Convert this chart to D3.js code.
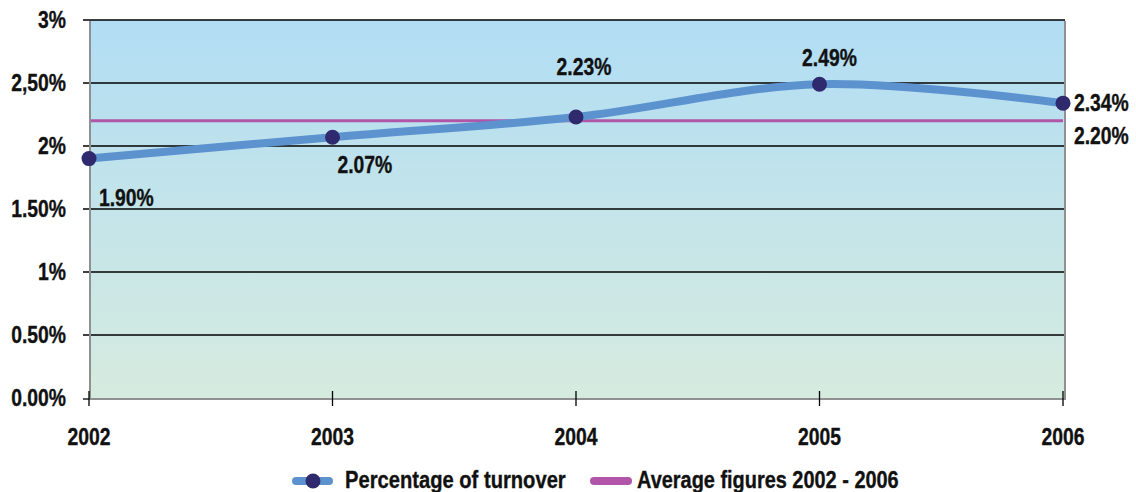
<!DOCTYPE html>
<html>
<head>
<meta charset="utf-8">
<script src="https://cdn.jsdelivr.net/npm/d3@7"></script>
<style>
  html, body { margin: 0; padding: 0; background: #fff; }
  svg text { font-family: "Liberation Sans", Arial, sans-serif; font-weight: bold; fill: #111; font-size: 23px; stroke: #111; stroke-width: 0.35px; }
  svg text.legend { font-size: 24px; }
</style>
</head>
<body>
<svg id="chart" width="1136" height="492"></svg>
<script>
// Turnover share by year and the 2002–2006 average
const years = ["2002", "2003", "2004", "2005", "2006"];
const turnover = [1.90, 2.07, 2.23, 2.49, 2.34];
const average = 2.20;
const yTicks = [0, 0.5, 1, 1.5, 2, 2.5, 3];
const yTickLabels = ["0.00%", "0.50%", "1%", "1.50%", "2%", "2,50%", "3%"];
const turnoverLabels = ["1.90%", "2.07%", "2.23%", "2.49%", "2.34%"];
const averageLabel = "2.20%";
const legendLabels = ["Percentage of turnover", "Average figures 2002 - 2006"];

const svg = d3.select("#chart");
const plotL = 89, plotR = 1063, plotT = 20, plotB = 398;

// Narrow the bold sans glyphs to a condensed face
const squeeze = 0.84;
function condense(sel, k = squeeze) {
  sel.each(function () {
    const w = this.getComputedTextLength();
    d3.select(this).attr("textLength", w * k).attr("lengthAdjust", "spacingAndGlyphs");
  });
}

const x = d3.scalePoint().domain(years).range([plotL, plotR]);
const y = d3.scaleLinear().domain([0, 3]).range([plotB, plotT]);

// Plot background gradient
const defs = svg.append("defs");
const grad = defs.append("linearGradient").attr("id", "bg").attr("x1", 0).attr("y1", 0).attr("x2", 0).attr("y2", 1);
grad.append("stop").attr("offset", "0%").attr("stop-color", "#b1ddf4");
grad.append("stop").attr("offset", "100%").attr("stop-color", "#d6ebdf");

svg.append("rect")
  .attr("x", plotL + 1).attr("y", plotT).attr("width", plotR - plotL + 1).attr("height", plotB - plotT)
  .attr("fill", "url(#bg)");

// Horizontal gridlines with ticks extending to the left
svg.append("g").selectAll("line").data(yTicks.filter(d => d > 0)).join("line")
  .attr("x1", plotL - 6).attr("x2", plotR + 2)
  .attr("y1", d => y(d)).attr("y2", d => y(d))
  .attr("stroke", "#000").attr("stroke-width", 1.3);

// Frame: left, right and bottom edges in grey
svg.append("line").attr("x1", plotL + 1).attr("x2", plotL + 1).attr("y1", plotT + 1).attr("y2", plotB + 1)
  .attr("stroke", "#8f9091").attr("stroke-width", 2);
svg.append("line").attr("x1", plotR + 2).attr("x2", plotR + 2).attr("y1", plotT + 1).attr("y2", plotB + 1)
  .attr("stroke", "#8f9091").attr("stroke-width", 2);
svg.append("line").attr("x1", plotL).attr("x2", plotR + 3).attr("y1", plotB + 1).attr("y2", plotB + 1)
  .attr("stroke", "#8f9091").attr("stroke-width", 2);
svg.append("line").attr("x1", plotL - 6).attr("x2", plotL).attr("y1", plotB + 1).attr("y2", plotB + 1)
  .attr("stroke", "#000").attr("stroke-width", 1.3);

// Y axis labels
svg.append("g").selectAll("text").data(yTicks).join("text")
  .attr("x", 66).attr("y", d => y(d) + 8)
  .attr("text-anchor", "end")
  .text((d, i) => yTickLabels[i])
  .call(condense);

// X axis ticks and labels
svg.append("g").selectAll("line").data(years).join("line")
  .attr("x1", d => x(d)).attr("x2", d => x(d))
  .attr("y1", plotB - 7).attr("y2", plotB + 8)
  .attr("stroke", "#000").attr("stroke-width", 1.3);
svg.append("g").selectAll("text").data(years).join("text")
  .attr("x", d => x(d)).attr("y", 445)
  .attr("text-anchor", "middle")
  .text(d => d)
  .call(condense);

// Average line
svg.append("line")
  .attr("x1", plotL + 2).attr("x2", plotR).attr("y1", y(average)).attr("y2", y(average))
  .attr("stroke", "#b055a8").attr("stroke-width", 3);

// Turnover curve
const line = d3.line()
  .x((d, i) => x(years[i]))
  .y(d => y(d))
  .curve(d3.curveCatmullRom.alpha(0.5));
svg.append("path")
  .datum(turnover)
  .attr("d", line)
  .attr("fill", "none")
  .attr("stroke", "#5c93cf")
  .attr("stroke-width", 8)
  .attr("stroke-linecap", "round");

svg.append("g").selectAll("circle").data(turnover).join("circle")
  .attr("cx", (d, i) => x(years[i]))
  .attr("cy", d => y(d))
  .attr("r", 7.5)
  .attr("fill", "#2f2a6d");

// Value labels
const labelPos = [
  { dx: 10, dy: 47, anchor: "start" },
  { dx: 5, dy: 36, anchor: "start" },
  { dx: 8, dy: -42, anchor: "middle" },
  { dx: 10, dy: -18, anchor: "middle" },
  { dx: 11, dy: 8, anchor: "start" }
];
svg.append("g").selectAll("text").data(turnover).join("text")
  .attr("x", (d, i) => x(years[i]) + labelPos[i].dx)
  .attr("y", (d, i) => y(d) + labelPos[i].dy)
  .attr("text-anchor", (d, i) => labelPos[i].anchor)
  .text((d, i) => turnoverLabels[i])
  .call(condense);

svg.append("text")
  .attr("x", plotR + 11).attr("y", y(average) + 23)
  .text(averageLabel)
  .call(condense);

// Legend
const ly = 481;
svg.append("line").attr("x1", 296).attr("x2", 329).attr("y1", ly).attr("y2", ly)
  .attr("stroke", "#5c93cf").attr("stroke-width", 8).attr("stroke-linecap", "round");
svg.append("circle").attr("cx", 313).attr("cy", ly).attr("r", 7.5).attr("fill", "#2f2a6d");
svg.append("text").attr("class", "legend").attr("x", 345).attr("y", ly + 7).text(legendLabels[0]).call(condense);

svg.append("line").attr("x1", 594).attr("x2", 628).attr("y1", ly).attr("y2", ly)
  .attr("stroke", "#b055a8").attr("stroke-width", 8).attr("stroke-linecap", "round");
svg.append("text").attr("class", "legend").attr("x", 637).attr("y", ly + 7).text(legendLabels[1]).call(condense, 0.83);
</script>
</body>
</html>
